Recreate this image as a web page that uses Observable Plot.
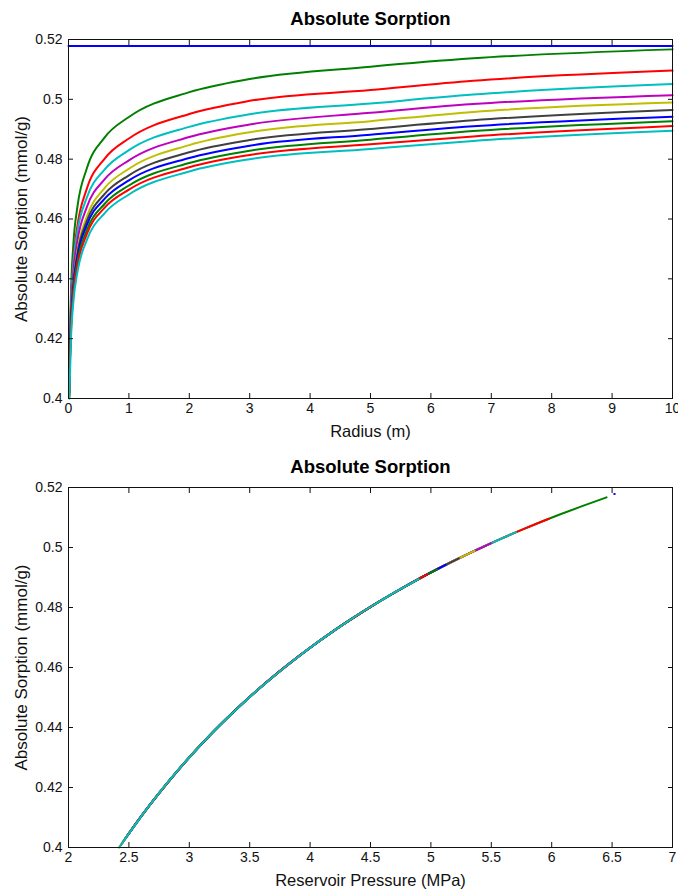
<!DOCTYPE html>
<html><head><meta charset="utf-8">
<script src="https://cdn.jsdelivr.net/npm/d3@7"></script>
<script src="https://cdn.jsdelivr.net/npm/@observablehq/plot@0.6"></script>
<style>
body{margin:0;background:#fff;}
#chart{width:678px;}
#chart svg{display:block;}
</style></head><body><div id="chart"></div>
<script>
// Radii (m) at which each profile was read
const radius = [0.015, 0.02, 0.04, 0.08, 0.15, 0.3, 0.6, 1, 2, 3, 5, 6.7, 10];

// Series names / MATLAB default colour order
const seriesNames = ["t0", "t1", "t2", "t3", "t4", "t5", "t6", "t7", "t8", "t9", "t10"];
const seriesColors = ["#0000ff", "#008000", "#ff0000", "#00bfbf", "#bf00bf", "#bfbf00", "#404040", "#0000ff", "#008000", "#ff0000", "#00bfbf"];

// Initial state (flat line in top plot, single point in bottom plot)
const initialRadius = [0, 10];
const initialSorption = [0.5178, 0.5178];
const initialPressure = [6.52, 6.52];

// Absolute sorption (mmol/g) at each radius
const sorption1 = [0.4038, 0.4137, 0.4344, 0.4514, 0.4644, 0.4767, 0.4873, 0.4941, 0.5024, 0.5068, 0.5109, 0.5137, 0.5167];
const sorption2 = [0.4016, 0.4107, 0.4297, 0.4457, 0.4580, 0.4699, 0.4802, 0.4869, 0.4951, 0.4995, 0.5031, 0.5062, 0.5096];
const sorption3 = [0.4059, 0.4138, 0.4305, 0.4448, 0.4561, 0.4670, 0.4766, 0.4830, 0.4908, 0.4950, 0.4986, 0.5016, 0.5051];
const sorption4 = [0.4041, 0.4117, 0.4279, 0.4419, 0.4530, 0.4638, 0.4733, 0.4796, 0.4874, 0.4916, 0.4955, 0.4984, 0.5014];
const sorption5 = [0.4000, 0.4076, 0.4241, 0.4384, 0.4497, 0.4606, 0.4704, 0.4768, 0.4847, 0.4890, 0.4927, 0.4958, 0.4989];
const sorption6 = [0.4024, 0.4095, 0.4248, 0.4381, 0.4487, 0.4591, 0.4684, 0.4746, 0.4823, 0.4864, 0.4901, 0.4930, 0.4964];
const sorption7 = [0.4029, 0.4097, 0.4244, 0.4373, 0.4476, 0.4578, 0.4668, 0.4729, 0.4804, 0.4845, 0.4882, 0.4910, 0.4942];
const sorption8 = [0.4018, 0.4085, 0.4230, 0.4358, 0.4460, 0.4561, 0.4651, 0.4712, 0.4787, 0.4828, 0.4865, 0.4894, 0.4927];
const sorption9 = [0.4008, 0.4075, 0.4219, 0.4345, 0.4447, 0.4548, 0.4638, 0.4698, 0.4773, 0.4814, 0.4850, 0.4876, 0.4911];
const sorption10 = [0.4000, 0.4043, 0.4192, 0.4321, 0.4425, 0.4528, 0.4620, 0.4682, 0.4759, 0.4800, 0.4834, 0.4861, 0.4895];

// Reservoir pressure (MPa) at each radius
const pressure1 = [2.484, 2.664, 3.099, 3.533, 3.928, 4.362, 4.797, 5.117, 5.552, 5.806, 6.061, 6.246, 6.454];
const pressure2 = [2.447, 2.607, 2.992, 3.378, 3.727, 4.113, 4.498, 4.782, 5.167, 5.393, 5.590, 5.770, 5.978];
const pressure3 = [2.522, 2.666, 3.011, 3.356, 3.669, 4.014, 4.360, 4.614, 4.959, 5.161, 5.345, 5.507, 5.705];
const pressure4 = [2.489, 2.626, 2.953, 3.281, 3.579, 3.907, 4.234, 4.476, 4.804, 4.996, 5.186, 5.335, 5.496];
const pressure5 = [2.417, 2.551, 2.872, 3.194, 3.486, 3.807, 4.129, 4.366, 4.688, 4.876, 5.049, 5.201, 5.361];
const pressure6 = [2.460, 2.585, 2.886, 3.187, 3.460, 3.760, 4.061, 4.283, 4.584, 4.760, 4.926, 5.063, 5.231];
const pressure7 = [2.469, 2.589, 2.878, 3.167, 3.429, 3.718, 4.007, 4.220, 4.509, 4.678, 4.840, 4.968, 5.122];
const pressure8 = [2.450, 2.567, 2.849, 3.131, 3.387, 3.669, 3.951, 4.159, 4.441, 4.606, 4.764, 4.894, 5.049];
const pressure9 = [2.434, 2.549, 2.826, 3.102, 3.353, 3.630, 3.906, 4.110, 4.387, 4.548, 4.699, 4.813, 4.973];
const pressure10 = [2.420, 2.493, 2.770, 3.046, 3.297, 3.574, 3.850, 4.054, 4.331, 4.492, 4.631, 4.747, 4.899];

// Axis ticks and labels
const radiusTicks = [0, 1, 2, 3, 4, 5, 6, 7, 8, 9, 10];
const pressureTicks = [2, 2.5, 3, 3.5, 4, 4.5, 5, 5.5, 6, 6.5, 7];
const sorptionTicks = [0.4, 0.42, 0.44, 0.46, 0.48, 0.5, 0.52];
const titleText = "Absolute Sorption";
const yLabelText = "Absolute Sorption (mmol/g)";
const xLabelTop = "Radius (m)";
const xLabelBottom = "Reservoir Pressure (MPa)";

const sorptionSeries = [sorption1, sorption2, sorption3, sorption4, sorption5, sorption6, sorption7, sorption8, sorption9, sorption10];
const pressureSeries = [pressure1, pressure2, pressure3, pressure4, pressure5, pressure6, pressure7, pressure8, pressure9, pressure10];

const fmt = d => String(+d.toFixed(2));
const FONT = "Liberation Sans, Arial, sans-serif";
const INK = "#111";
const TICK = 5;

function boxMarks(xTicks) {
  return [
    Plot.frame({stroke: INK, strokeWidth: 1}),
    // inward tick marks on all four sides
    Plot.axisX(xTicks, {anchor: "bottom", tickSize: TICK, dy: -TICK, fill: "none", stroke: INK, label: null}),
    Plot.axisX(xTicks, {anchor: "top", tickSize: TICK, dy: TICK, fill: "none", stroke: INK, label: null}),
    Plot.axisY(sorptionTicks, {anchor: "left", tickSize: TICK, dx: TICK, fill: "none", stroke: INK, label: null}),
    Plot.axisY(sorptionTicks, {anchor: "right", tickSize: TICK, dx: -TICK, fill: "none", stroke: INK, label: null}),
    // tick labels
    Plot.axisX(xTicks, {anchor: "bottom", tickSize: 0, tickPadding: 5, fontSize: 14, fill: INK, tickFormat: fmt, label: null}),
    Plot.axisY(sorptionTicks, {anchor: "left", tickSize: 0, tickPadding: 6, fontSize: 14, fill: INK, tickFormat: fmt, label: null}),
    Plot.text([titleText], {frameAnchor: "top", dy: -20, lineAnchor: "middle", fontSize: 18.5, fontWeight: "bold", fill: "#000"}),
    Plot.text([yLabelText], {frameAnchor: "left", dx: -47, rotate: -90, textAnchor: "middle", lineAnchor: "middle", fontSize: 17, fill: INK})
  ];
}

// Top: sorption vs radius
const topMarks = [];
topMarks.push(Plot.line(initialRadius.map((r, j) => ({r, v: initialSorption[j]})), {x: "r", y: "v", stroke: seriesColors[0], strokeWidth: 2}));
sorptionSeries.forEach((vals, i) => {
  const rows = radius.map((r, j) => ({r, v: vals[j]}));
  topMarks.push(Plot.line(rows, {x: "r", y: "v", stroke: seriesColors[i + 1], strokeWidth: 2, curve: "monotone-x"}));
});
topMarks.push(...boxMarks(radiusTicks));
topMarks.push(Plot.text([xLabelTop], {frameAnchor: "bottom", dy: 33, lineAnchor: "middle", fontSize: 16.5, fill: INK}));

const topChart = Plot.plot({
  width: 678, height: 446,
  marginTop: 39, marginBottom: 48, marginLeft: 68, marginRight: 6,
  style: {fontFamily: FONT, background: "#fff", overflow: "visible"},
  x: {domain: [0, 10], axis: null},
  y: {domain: [0.4, 0.52], axis: null},
  marks: topMarks
});

// Bottom: sorption vs pressure
const botMarks = [];
botMarks.push(Plot.dot(initialPressure.map((p, j) => ({p, v: initialSorption[j]})), {x: "p", y: "v", r: 1, fill: seriesColors[0]}));
sorptionSeries.forEach((vals, i) => {
  const rows = pressureSeries[i].map((p, j) => ({p, v: vals[j]}));
  botMarks.push(Plot.line(rows, {x: "p", y: "v", stroke: seriesColors[i + 1], strokeWidth: 2, curve: "monotone-x"}));
});
botMarks.push(...boxMarks(pressureTicks));
botMarks.push(Plot.text([xLabelBottom], {frameAnchor: "bottom", dy: 33, lineAnchor: "middle", fontSize: 16.5, fill: INK}));

const bottomChart = Plot.plot({
  width: 678, height: 446,
  marginTop: 41, marginBottom: 45, marginLeft: 68, marginRight: 6,
  style: {fontFamily: FONT, background: "#fff", overflow: "visible"},
  x: {domain: [2, 7], axis: null},
  y: {domain: [0.4, 0.52], axis: null},
  marks: botMarks
});

document.getElementById("chart").append(topChart, bottomChart);
</script></body></html>
